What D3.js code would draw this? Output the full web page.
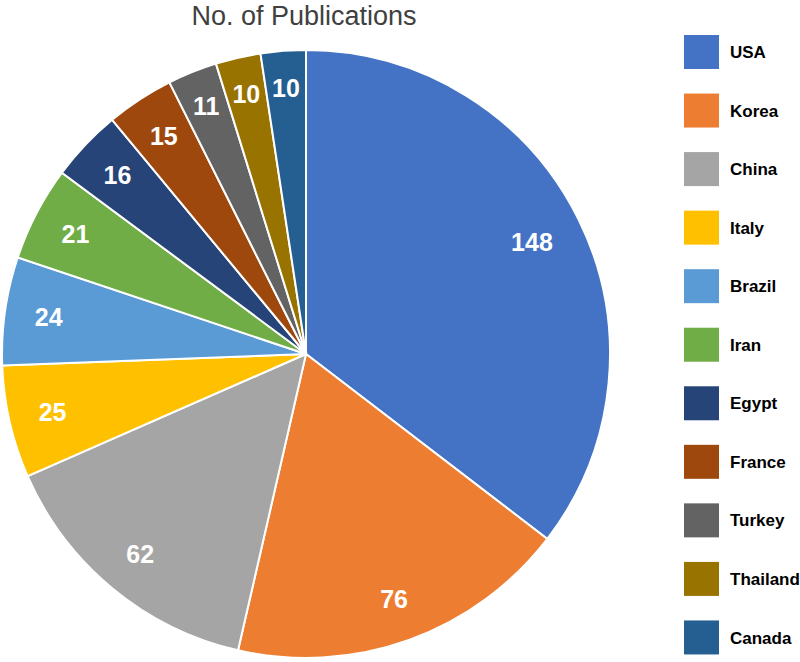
<!DOCTYPE html>
<html>
<head>
<meta charset="utf-8">
<script src="https://cdn.jsdelivr.net/npm/d3@7"></script>
<style>
  body { margin: 0; background: #fff; }
  text { font-family: "Liberation Sans", Arial, sans-serif; }
</style>
</head>
<body>
<div id="chart"></div>
<script>
let countries = ["USA", "Korea", "China", "Italy", "Brazil", "Iran", "Egypt", "France", "Turkey", "Thailand", "Canada"];
let publications = [148, 76, 62, 25, 24, 21, 16, 15, 11, 10, 10];
let colors = ["#4472C4", "#ED7D31", "#A5A5A5", "#FFC000", "#5B9BD5", "#70AD47", "#264478", "#9E480E", "#636363", "#997300", "#255E91"];

let width = 800,
    height = 662,
    cx = 306,
    cy = 354,
    radius = 304;

let data = countries.map(function(c, i) { return {country: c, value: publications[i]}; });

let fillColor = d3.scaleOrdinal()
    .domain(countries)
    .range(colors);

let svg = d3.select("#chart")
    .append("svg")
    .attr("width", width)
    .attr("height", height);

svg.append("text")
    .attr("x", 304)
    .attr("y", 25)
    .attr("text-anchor", "middle")
    .attr("font-size", 27)
    .attr("fill", "#404040")
    .text("No. of Publications");

let pie = d3.pie()
    .sort(null)
    .value(function(d) { return d.value; });

let arc = d3.arc()
    .innerRadius(0)
    .outerRadius(radius);

let chart = svg.append("g")
    .attr("transform", "translate(" + cx + "," + cy + ")");

let arcs = pie(data);

chart.selectAll(".slice")
    .data(arcs)
    .enter().append("path")
    .attr("class", "slice")
    .attr("d", arc)
    .attr("fill", function(d) { return fillColor(d.data.country); })
    .attr("stroke", "#fff")
    .attr("stroke-width", 2);

// small slices get their label pushed a bit further out
chart.selectAll(".label")
    .data(arcs)
    .enter().append("text")
    .attr("class", "label")
    .attr("transform", function(d) {
        let r = d.data.value <= 11 ? 267 : (d.data.value > 100 ? 252 : 260);
        let a = (d.startAngle + d.endAngle) / 2;
        return "translate(" + (r * Math.sin(a)) + "," + (-r * Math.cos(a)) + ")";
    })
    .attr("text-anchor", "middle")
    .attr("dy", "0.36em")
    .attr("font-size", 25)
    .attr("font-weight", "bold")
    .attr("fill", "#fff")
    .text(function(d) { return d.data.value; });

let legendY = d3.scaleBand()
    .domain(countries)
    .range([23, 667])
    .paddingInner(0);

let legend = svg.selectAll(".legend")
    .data(countries)
    .enter().append("g")
    .attr("class", "legend")
    .attr("transform", function(d) { return "translate(684," + (legendY(d) + 12) + ")"; });

legend.append("rect")
    .attr("width", 35)
    .attr("height", 34)
    .attr("fill", function(d) { return fillColor(d); });

legend.append("text")
    .attr("x", 46)
    .attr("y", 17)
    .attr("dy", "0.36em")
    .attr("font-size", 17)
    .attr("font-weight", "bold")
    .attr("fill", "#000")
    .text(function(d) { return d; });
</script>
</body>
</html>
